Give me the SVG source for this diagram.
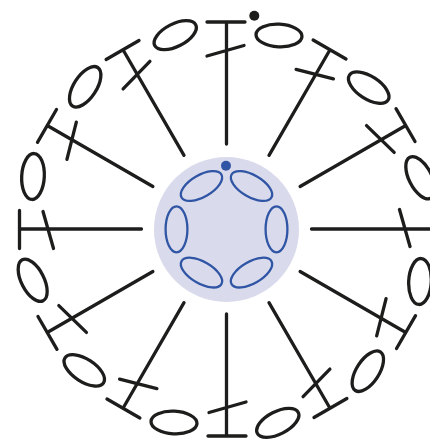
<svg xmlns="http://www.w3.org/2000/svg" width="430" height="439" viewBox="0 0 430 439">
<style>
.s{fill:none;stroke:#1d1d1b;stroke-width:3.300;stroke-linecap:round}
.b{fill:none;stroke:#2f55a4;stroke-width:2.300}
</style>
<defs>
<g id="stitch" class="s"><path d="M226.500 144V22M207 22H245M207 56L244 45.500"/></g>
<ellipse id="oval" class="s" cx="279" cy="35.500" rx="23" ry="11.300" transform="rotate(3 279 35.500)"/>
<ellipse id="ring" class="b" cx="276.500" cy="229.300" rx="10.900" ry="23"/>
</defs>
<rect width="430" height="439" fill="#fff"/>
<g id="centre"><circle cx="226.500" cy="229.500" r="72.500" fill="#d9daec"/></g>
<g id="rings">
<use id="ring-1" href="#ring"/>
<use id="ring-2" href="#ring" transform="rotate(60 226.500 229.300)"/>
<use id="ring-3" href="#ring" transform="rotate(120 226.500 229.300)"/>
<use id="ring-4" href="#ring" transform="rotate(180 226.500 229.300)"/>
<use id="ring-5" href="#ring" transform="rotate(240 226.500 229.300)"/>
<use id="ring-6" href="#ring" transform="rotate(300 226.500 229.300)"/>
</g>
<g id="start-blue"><circle cx="226" cy="165.700" r="5" fill="#2f55a4"/></g>
<g id="connectors">
<use id="stitch-0" href="#stitch"/>
<use id="stitch-1" href="#stitch" transform="rotate(30 226.500 229)"/>
<use id="stitch-2" href="#stitch" transform="rotate(60 226.500 229)"/>
<use id="stitch-3" href="#stitch" transform="rotate(90 226.500 229)"/>
<use id="stitch-4" href="#stitch" transform="rotate(120 226.500 229)"/>
<use id="stitch-5" href="#stitch" transform="rotate(150 226.500 229)"/>
<use id="stitch-6" href="#stitch" transform="rotate(180 226.500 229)"/>
<use id="stitch-7" href="#stitch" transform="rotate(210 226.500 229)"/>
<use id="stitch-8" href="#stitch" transform="rotate(240 226.500 229)"/>
<use id="stitch-9" href="#stitch" transform="rotate(270 226.500 229)"/>
<use id="stitch-10" href="#stitch" transform="rotate(300 226.500 229)"/>
<use id="stitch-11" href="#stitch" transform="rotate(330 226.500 229)"/>
</g>
<g id="ovals">
<use id="oval-0" href="#oval"/>
<use id="oval-1" href="#oval" transform="rotate(30 226.500 229)"/>
<use id="oval-2" href="#oval" transform="rotate(60 226.500 229)"/>
<use id="oval-3" href="#oval" transform="rotate(90 226.500 229)"/>
<use id="oval-4" href="#oval" transform="rotate(120 226.500 229)"/>
<use id="oval-5" href="#oval" transform="rotate(150 226.500 229)"/>
<use id="oval-6" href="#oval" transform="rotate(180 226.500 229)"/>
<use id="oval-7" href="#oval" transform="rotate(210 226.500 229)"/>
<use id="oval-8" href="#oval" transform="rotate(240 226.500 229)"/>
<use id="oval-9" href="#oval" transform="rotate(270 226.500 229)"/>
<use id="oval-10" href="#oval" transform="rotate(300 226.500 229)"/>
<use id="oval-11" href="#oval" transform="rotate(330 226.500 229)"/>
</g>
<g id="start-black"><circle cx="254.300" cy="15.700" r="5" fill="#1d1d1b"/></g>
</svg>
